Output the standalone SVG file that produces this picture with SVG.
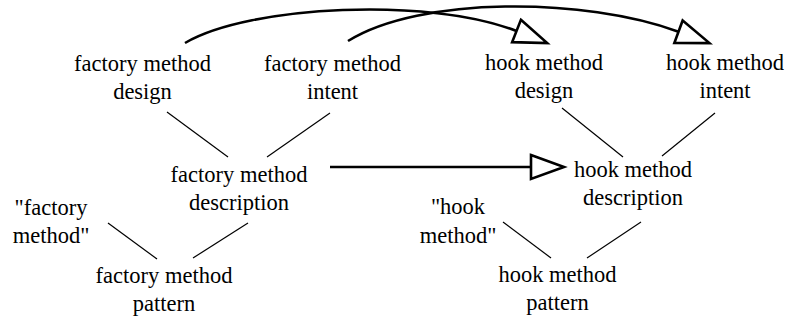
<svg xmlns="http://www.w3.org/2000/svg" width="788" height="321" viewBox="0 0 788 321">
<style>
text{font-family:'Liberation Serif','Times New Roman',serif;font-size:22.5px;fill:#000;text-anchor:middle}
.thin{stroke:#000;stroke-width:1.2;fill:none}
.thick{stroke:#000;stroke-width:2.6;fill:none;marker-end:url(#tri)}
</style>
<defs>
<marker id="tri" markerUnits="userSpaceOnUse" viewBox="-3 -15 40 30" markerWidth="40" markerHeight="30" refX="0" refY="0" orient="auto" overflow="visible">
<path d="M0,-12 L33,0 L0,12 Z" fill="#fff" stroke="#000" stroke-width="2.6" stroke-linejoin="miter"/>
</marker>
</defs>
<rect width="788" height="321" fill="#fff"/>
<g id="connectors">
<line class="thin" x1="167" y1="112" x2="228" y2="157"/>
<line class="thin" x1="330" y1="113" x2="267" y2="157"/>
<line class="thin" x1="108" y1="223" x2="157" y2="259"/>
<line class="thin" x1="248" y1="223" x2="193" y2="258"/>
<line class="thin" x1="562" y1="108" x2="623" y2="157"/>
<line class="thin" x1="715" y1="113" x2="662" y2="156"/>
<line class="thin" x1="503" y1="222" x2="551" y2="258"/>
<line class="thin" x1="641" y1="222" x2="587" y2="258"/>
<path class="thick" d="M185,43 C250,5 430,-3 516.5,31"/>
<path class="thick" d="M348,41 C420,-4 584.7,-2.8 678.5,31.7"/>
<path class="thick" d="M330,167 H531"/>
</g>
<g id="fm-design"><text x="142.5" y="71">factory method</text><text x="142.5" y="99">design</text></g>
<g id="fm-intent"><text x="332.5" y="71">factory method</text><text x="332.5" y="99">intent</text></g>
<g id="hm-design"><text x="544" y="70">hook method</text><text x="544" y="98">design</text></g>
<g id="hm-intent"><text x="725" y="70">hook method</text><text x="725" y="98">intent</text></g>
<g id="fm-description"><text x="239" y="182">factory method</text><text x="239" y="210">description</text></g>
<g id="hm-description"><text x="633" y="177">hook method</text><text x="633" y="205">description</text></g>
<g id="fm-name"><text x="51" y="215">"factory</text><text x="51" y="243">method"</text></g>
<g id="hm-name"><text x="458" y="214">"hook</text><text x="458" y="243">method"</text></g>
<g id="fm-pattern"><text x="164" y="283">factory method</text><text x="164" y="311">pattern</text></g>
<g id="hm-pattern"><text x="557.5" y="282">hook method</text><text x="557.5" y="310">pattern</text></g>
</svg>
